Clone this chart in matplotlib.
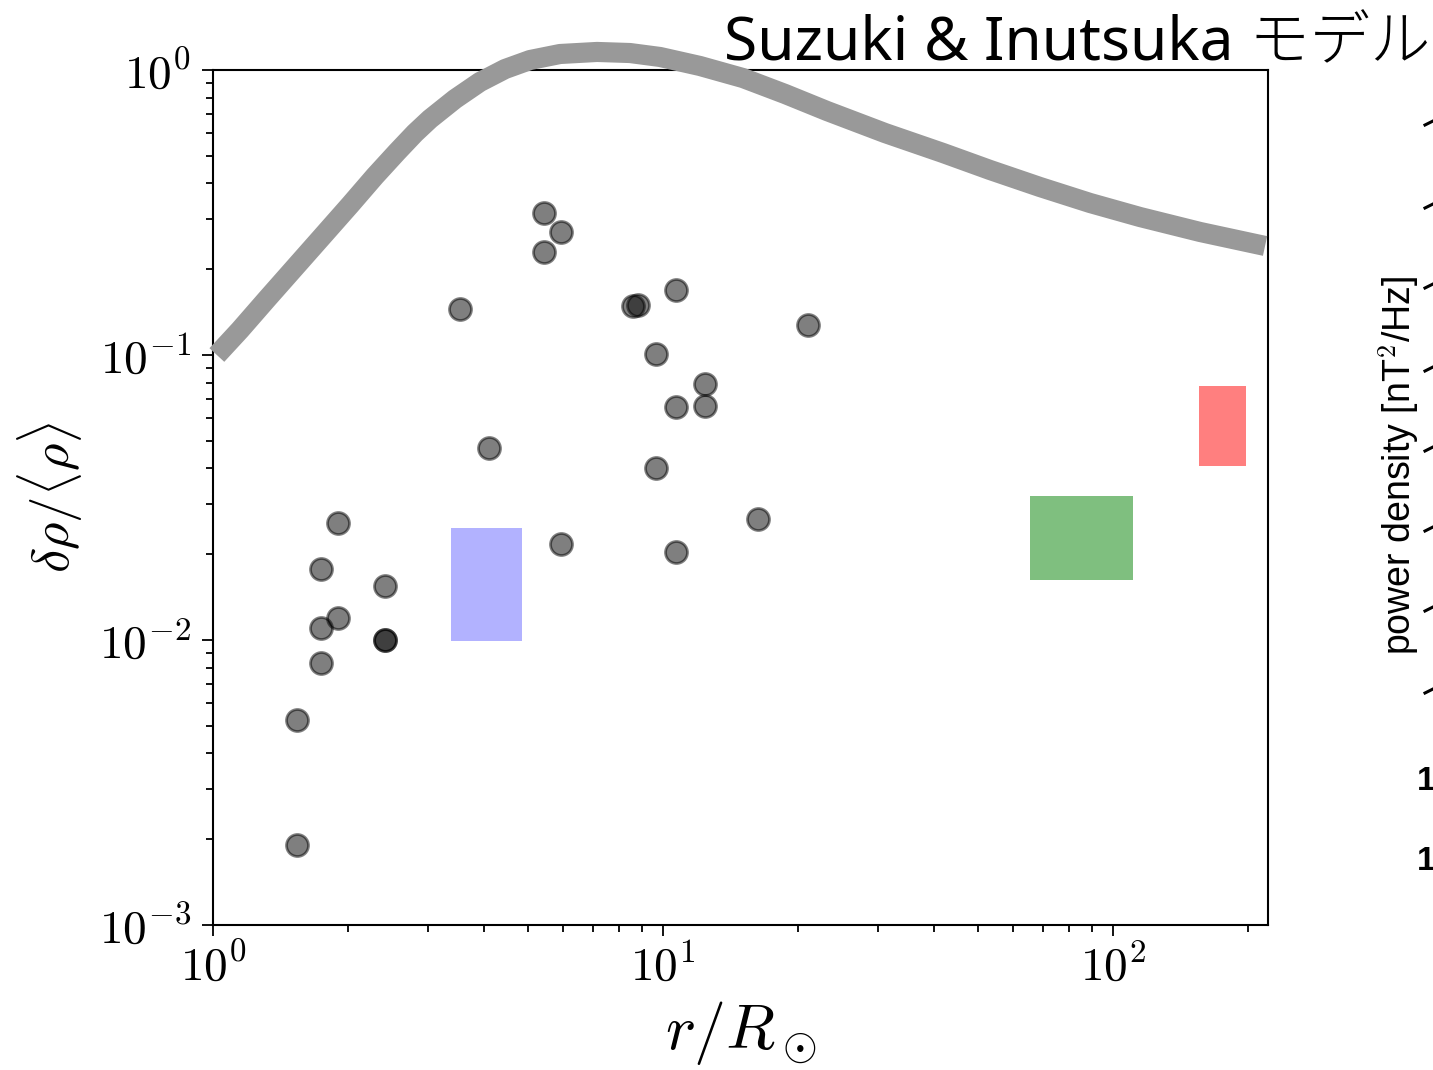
import math
import matplotlib
matplotlib.use("Agg")
import matplotlib.pyplot as plt
from matplotlib.patches import Rectangle
from matplotlib.ticker import FuncFormatter
from matplotlib.lines import Line2D

plt.rcParams['mathtext.fontset'] = 'cm'
plt.rcParams['font.family'] = ['DejaVu Serif']

# Suzuki & Inutsuka model curve: r/R_sun vs delta rho / <rho>
model_r = [1.02, 1.148, 1.318, 1.537, 1.729, 2.016, 2.291, 2.564, 2.811, 3.035,
           3.45, 3.92, 4.457, 5.064, 5.903, 7.136, 8.447, 9.847, 12.08, 15.06,
           18.67, 23.14, 31.14, 41.9, 53.3, 68.8, 88.9, 114.8, 156.1, 217.7]
model_drho = [0.100, 0.1224, 0.1572, 0.2069, 0.2553, 0.3360, 0.4246, 0.5156, 0.601, 0.673,
              0.791, 0.908, 1.008, 1.084, 1.138, 1.157, 1.147, 1.111, 1.033, 0.937,
              0.824, 0.718, 0.601, 0.5114, 0.4458, 0.3886, 0.3415, 0.3049, 0.2702, 0.2413]

# Observed density fluctuations
obs_r = [1.90, 1.74, 2.41, 1.90, 1.74, 2.41, 2.41, 1.74, 1.54, 1.54,
         5.45, 5.93, 5.45, 3.53, 8.56, 8.81, 10.67, 20.97, 9.65, 12.40,
         10.67, 12.40, 4.11, 9.65, 16.29, 5.93, 10.67]
obs_drho = [0.0257, 0.0177, 0.0155, 0.0119, 0.0110, 0.0100, 0.0100, 0.0083, 0.00524, 0.00191,
            0.314, 0.270, 0.229, 0.145, 0.149, 0.150, 0.169, 0.127, 0.101, 0.079,
            0.0655, 0.0664, 0.0471, 0.0400, 0.0266, 0.0217, 0.0203]

# Shaded ranges: (r_min, r_max, drho_min, drho_max)
box_blue = (3.38, 4.87, 0.0099, 0.0247)
box_green = (65.5, 110.8, 0.0162, 0.0319)
box_red = (155.0, 197.0, 0.0407, 0.0778)

# Tick rows of the neighbouring panel (pixel rows of the figure)
side_rows_short = [122, 205, 285, 368, 448, 528, 608, 690]
side_rows_full = [782, 862]

W, H = 1433, 1070
fig = plt.figure(figsize=(W / 100, H / 100), dpi=100)
ax = fig.add_axes([213 / W, 1 - 925 / H, (1268 - 213) / W, (925 - 70) / H])
ax.set_xscale('log')
ax.set_yscale('log')
ax.set_xlim(1, 221)
ax.set_ylim(1e-3, 1)

ax.plot(model_r, model_drho, color='#999999', lw=14.5, solid_capstyle='butt',
        solid_joinstyle='round', clip_on=False, zorder=3)
ax.scatter(obs_r, obs_drho, s=250, c='k', alpha=0.5, linewidths=2.0, zorder=4)

for (x0, x1, y0, y1), col, a in [(box_blue, 'blue', 0.3), (box_green, 'green', 0.5),
                                 (box_red, 'red', 0.5)]:
    ax.add_patch(Rectangle((x0, y0), x1 - x0, y1 - y0, facecolor=col, alpha=a,
                           edgecolor='none', zorder=2))

pow10 = FuncFormatter(lambda v, pos: r'$10^{%d}$' % round(math.log10(v)))
ax.xaxis.set_major_formatter(pow10)
ax.yaxis.set_major_formatter(pow10)

for s in ax.spines.values():
    s.set_linewidth(1.5)
ax.tick_params(which='both', direction='out', top=False, right=False, width=1.3,
               labelsize=34)
ax.tick_params(axis='y', pad=8)
ax.tick_params(axis='x', pad=6)
ax.tick_params(which='major', length=8)
ax.tick_params(which='minor', length=5)

ax.set_xlabel(r'$r/R_\odot$', fontsize=46, labelpad=6)
ax.set_ylabel(r'$\delta\rho/\langle\rho\rangle$', fontsize=38, labelpad=10)

fig.text(1430 / W, 1 - 60 / H, 'Suzuki & Inutsuka モデル', ha='right', va='baseline',
         fontsize=43.5, family=['Noto Sans', 'Noto Sans CJK JP', 'DejaVu Sans'],
         fontweight='light')

# Neighbouring panel, cut off at the right edge
fig.text(1399 / W, 1 - 465 / H, 'power density [nT$^2$/Hz]', rotation=90,
         ha='center', va='center', fontsize=27,
         family=['Liberation Sans Narrow', 'Liberation Sans'])
for r in side_rows_short:
    fig.add_artist(Line2D([1425 / W, 1433 / W], [1 - (r + 3) / H, 1 - (r - 1) / H],
                          color='k', lw=2.2, transform=fig.transFigure))
for r in side_rows_full:
    fig.text(1435 / W, 1 - r / H, '1', ha='right', va='center', fontsize=24,
             fontweight='bold', family=['Liberation Sans'])

fig.savefig('out.png', dpi=100)
